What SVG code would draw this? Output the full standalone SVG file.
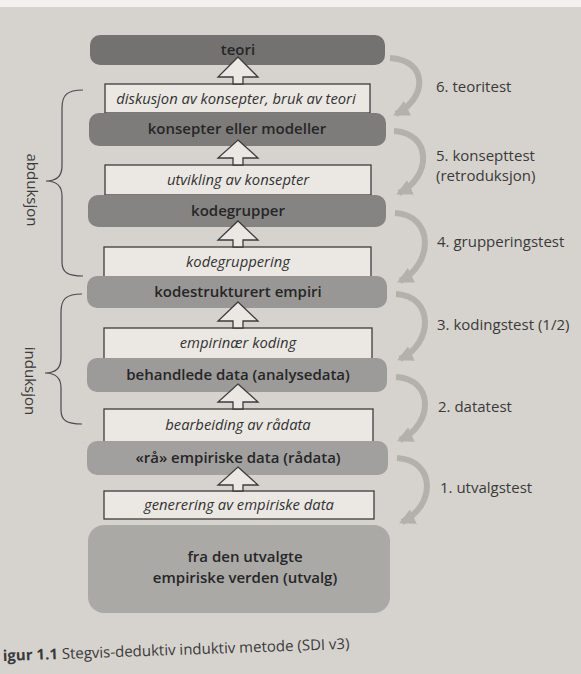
<svg xmlns="http://www.w3.org/2000/svg" width="581" height="674" viewBox="0 0 581 674">
<defs>
<style>
.bg{fill:#d6d3ce}
.d1{fill:#737270}
.d2{fill:#7d7c7a}
.d3{fill:#858482}
.l1{fill:#989795}
.l2{fill:#9c9b99}
.l3{fill:#a1a09e}
.l4{fill:#aaa9a6}
.box{fill:#ebe8e3;stroke:#3c3c3c;stroke-width:1.3}
.arr{fill:#ebe8e3;stroke:#3c3c3c;stroke-width:1.3;stroke-linejoin:miter}
.t{font-family:"Open Sans","Noto Sans",sans-serif;fill:#262626;text-anchor:middle}
.tb{font-size:15px;font-weight:600}
.ti{font-size:14.8px;font-style:italic;fill:#333}
.lab{font-family:"Open Sans","Noto Sans",sans-serif;font-size:15px;fill:#3a3a3a}
.test{fill:none;stroke:#b4b1ac;stroke-width:6;marker-end:url(#ah)}
.brace{fill:none;stroke:#4a4a4a;stroke-width:1.2}
</style>
<marker id="ah" markerUnits="userSpaceOnUse" markerWidth="16" markerHeight="16" viewBox="0 0 10 10" refX="8" refY="5" orient="auto">
<path d="M0,0 L10,5 L0,10 z" fill="#b4b1ac"/>
</marker>
</defs>
<rect class="bg" x="0" y="0" width="581" height="674"/>
<rect x="0" y="0" width="581" height="7" fill="#f2f1ef"/>

<g id="teori"><rect class="d1" x="90" y="35" width="295" height="30" rx="10"/><text class="t tb" x="238" y="55">teori</text></g>
<g id="diskusjon"><rect class="box" x="105" y="84" width="265" height="29"/><text class="t ti" x="236" y="104">diskusjon av konsepter, bruk av teori</text></g>
<g id="konsepter"><rect class="d2" x="89" y="113" width="297" height="33" rx="10"/><text class="t tb" x="237" y="134">konsepter eller modeller</text></g>
<g id="utvikling"><rect class="box" x="105" y="165" width="266" height="30"/><text class="t ti" x="238" y="185">utvikling av konsepter</text></g>
<g id="kodegrupper"><rect class="d3" x="88" y="195" width="298" height="32" rx="10"/><text class="t tb" x="238" y="216">kodegrupper</text></g>
<g id="kodegruppering"><rect class="box" x="104" y="247" width="267" height="30"/><text class="t ti" x="238" y="267">kodegruppering</text></g>
<g id="kodestrukturert"><rect class="l1" x="87" y="276" width="300" height="32" rx="10"/><text class="t tb" x="238" y="297">kodestrukturert empiri</text></g>
<g id="empirinaer"><rect class="box" x="104" y="328" width="268" height="31"/><text class="t ti" x="238" y="348">empirinær koding</text></g>
<g id="behandlede"><rect class="l2" x="87" y="358" width="300" height="34" rx="10"/><text class="t tb" x="238" y="380">behandlede data (analysedata)</text></g>
<g id="bearbeiding"><rect class="box" x="104" y="409" width="269" height="33"/><text class="t ti" x="238" y="430">bearbeiding av rådata</text></g>
<g id="raa"><rect class="l3" x="87" y="441" width="301" height="34" rx="10"/><text class="t tb" x="238" y="463">«rå» empiriske data (rådata)</text></g>
<g id="generering"><rect class="box" x="104" y="491" width="270" height="28"/><text class="t ti" x="239" y="510">generering av empiriske data</text></g>
<g id="verden"><rect class="l4" x="88" y="525" width="302" height="88" rx="16"/><text class="t tb" x="245" y="562">fra den utvalgte</text><text class="t tb" x="245" y="583">empiriske verden (utvalg)</text></g>

<g id="connectors">
<polygon class="arr" points="238,57 258,77 243,77 243,84 233,84 233,77 218,77"/>
<polygon class="arr" points="238,140 258,158 243,158 243,165 233,165 233,158 218,158"/>
<polygon class="arr" points="238,221 258,240 243,240 243,247 233,247 233,240 218,240"/>
<polygon class="arr" points="238,302 258,321 243,321 243,328 233,328 233,321 218,321"/>
<polygon class="arr" points="238,384 258,402 243,402 243,409 233,409 233,402 218,402"/>
<polygon class="arr" points="238,467 258,485 243,485 243,491 233,491 233,485 218,485"/>
<path class="test" d="M390,58 C428,60 428,98 396,114"/>
<path class="test" d="M394,131 C432,133 432,177 399,193"/>
<path class="test" d="M395,213 C434,215 434,264 400,281"/>
<path class="test" d="M396,294 C434,296 434,343 400,359"/>
<path class="test" d="M396,377 C434,379 434,424 400,440"/>
<path class="test" d="M397,458 C436,460 436,506 402,522"/>
</g>

<g id="braces">
<path class="brace" d="M83,90 C67,90 62,95 62,108 L62,166 C62,176 57,181 46,181 C57,181 62,186 62,196 L62,262 C62,272 67,276 83,276"/>
<path class="brace" d="M82,294 C66,294 61,299 61,312 L61,358 C61,368 56,373 45,373 C56,373 61,378 61,388 L61,410 C61,420 66,424 82,424"/>
<text class="lab" x="0" y="0" text-anchor="middle" transform="translate(27,190) rotate(90)">abduksjon</text>
<text class="lab" x="0" y="0" text-anchor="middle" transform="translate(25,381) rotate(90)">induksjon</text>
</g>

<g id="labels">
<text class="lab" x="436" y="92">6. teoritest</text>
<text class="lab" x="436" y="161">5. konsepttest</text>
<text class="lab" x="436" y="181">(retroduksjon)</text>
<text class="lab" x="437" y="247">4. grupperingstest</text>
<text class="lab" x="437" y="330">3. kodingstest (1/2)</text>
<text class="lab" x="438" y="412">2. datatest</text>
<text class="lab" x="440" y="493">1. utvalgstest</text>
</g>

<text class="lab" x="3" y="661" transform="rotate(-2 3 661)"><tspan font-weight="700">igur 1.1</tspan> Stegvis-deduktiv induktiv metode (SDI v3)</text>
</svg>
